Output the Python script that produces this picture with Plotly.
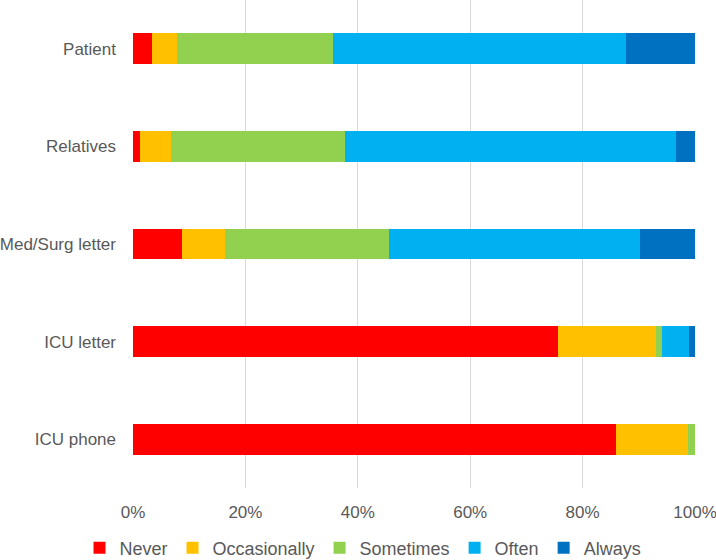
import plotly.graph_objects as go

categories = ["Patient", "Relatives", "Med/Surg letter", "ICU letter", "ICU phone"]
series_names = ["Never", "Occasionally", "Sometimes", "Often", "Always"]
never = [3.3, 1.2, 8.8, 75.6, 85.9]
occasionally = [4.5, 5.5, 7.6, 17.5, 12.9]
sometimes = [27.7, 31.1, 29.2, 1.1, 1.2]
often = [52.2, 58.9, 44.6, 4.7, 0.0]
always = [12.3, 3.3, 9.8, 1.1, 0.0]
tick_vals = [0, 20, 40, 60, 80, 100]
tick_text = ["0%", "20%", "40%", "60%", "80%", "100%"]

colors = ["#FF0000", "#FFC000", "#92D050", "#00B0F0", "#0070C0"]
values = [never, occasionally, sometimes, often, always]

fig = go.Figure()
for name, vals, col in zip(series_names, values, colors):
    fig.add_trace(go.Bar(
        name=name, y=categories, x=vals, orientation="h",
        marker=dict(color=col, line=dict(width=0)),
        width=0.315,
    ))

font_color = "#595959"
fig.update_layout(
    barmode="stack",
    width=716, height=560,
    margin=dict(l=133, r=21, t=0, b=72, autoexpand=False),
    plot_bgcolor="white", paper_bgcolor="white",
    font=dict(family="Liberation Sans, Arial", size=17, color=font_color),
    legend=dict(
        orientation="h", xref="container", yref="container",
        x=0.507, xanchor="center", y=0.0214, yanchor="middle",
        font=dict(size=18, color=font_color),
        itemwidth=30, traceorder="normal", tracegroupgap=0,
    ),
    xaxis=dict(
        range=[0, 100], tickvals=tick_vals, ticktext=tick_text,
        showgrid=True, gridcolor="#D9D9D9", gridwidth=1,
        zeroline=False, showline=False,
        ticks="", ticklabelstandoff=12, ticklabeloverflow="allow",
        tickfont=dict(size=17, color=font_color),
    ),
    yaxis=dict(
        categoryorder="array", categoryarray=categories[::-1],
        showgrid=False, zeroline=False, showline=False,
        ticks="", ticklabelstandoff=16,
        tickfont=dict(size=17, color=font_color),
    ),
    showlegend=True,
)

fig.write_html(
    "out.html",
    config={"displayModeBar": False},
    post_script="document.body.style.margin='0';document.body.style.overflow='hidden';",
)
